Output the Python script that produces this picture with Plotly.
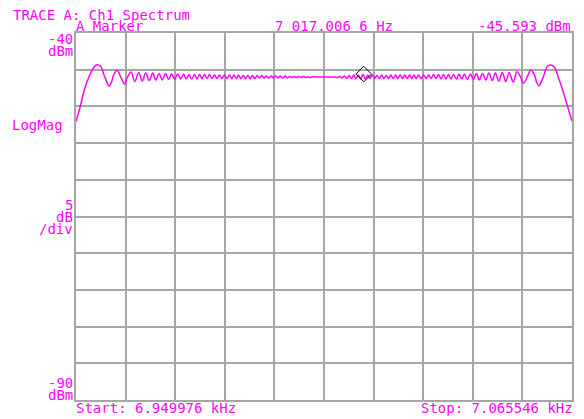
import plotly.graph_objects as go

# ---- data ----
start_hz = 6949.976
stop_hz = 7065.546
ref_top_dbm = -40
ref_bottom_dbm = -90
db_per_div = 5

freq_left_hz = [
    6949.98, 6951.07, 6951.83, 6952.60, 6953.39, 6954.15, 6954.78, 6955.71, 6956.47, 6957.24,
    6957.63, 6958.17, 6958.79, 6959.56, 6960.35, 6961.28, 6961.88, 6962.81, 6963.67, 6964.60,
    6965.41, 6966.22, 6967.03, 6967.85, 6968.54, 6969.35, 6970.05, 6970.86, 6971.56, 6972.26,
    6972.95, 6973.65, 6974.34, 6975.04, 6975.62, 6976.32, 6976.90, 6977.59, 6978.17, 6978.75,
    6979.33, 6979.91, 6980.49, 6981.07, 6981.65, 6982.23, 6982.81, 6983.39, 6983.97, 6984.55,
    6985.14, 6985.72, 6986.30, 6986.76, 6987.34, 6987.80, 6988.38, 6988.96, 6989.43, 6990.01,
    6990.59, 6991.05, 6991.63, 6992.21, 6992.68, 6993.26, 6993.84, 6994.30, 6994.88, 6995.46,
    6995.93, 6996.51, 6997.09, 6997.55, 6998.13, 6998.71, 6999.18, 6999.76, 7000.34, 7000.80,
    7001.38, 7001.96, 7002.42, 7003.00, 7003.58, 7004.05, 7004.63,
]
level_left_dbm = [
    -52.03, -49.77, -47.94, -46.58, -45.45, -44.67, -44.32, -44.54, -45.68, -46.81,
    -47.26, -46.81, -45.68, -45.08, -45.90, -46.95, -46.13, -45.31, -46.61, -45.38,
    -46.54, -45.45, -46.47, -45.45, -46.40, -45.52, -46.40, -45.52, -46.34, -45.59,
    -46.34, -45.59, -46.27, -45.59, -46.27, -45.65, -46.27, -45.65, -46.27, -45.65,
    -46.20, -45.65, -46.20, -45.65, -46.20, -45.72, -46.20, -45.72, -46.20, -45.72,
    -46.20, -45.72, -46.20, -45.72, -46.20, -45.72, -46.20, -45.79, -46.20, -45.79,
    -46.20, -45.79, -46.20, -45.79, -46.13, -45.79, -46.13, -45.86, -46.13, -45.86,
    -46.13, -45.86, -46.13, -45.86, -46.13, -45.86, -46.13, -45.93, -46.06, -45.93,
    -46.06, -45.93, -46.06, -45.93, -46.06, -45.99, -46.06,
]

freq_center_hz = [7004.98, 7006.60, 7008.46, 7010.08]
level_center_dbm = [-45.99, -45.99, -45.99, -45.99]

freq_right_hz = [
    7010.89, 7011.47, 7011.94, 7012.52, 7013.10, 7013.56, 7014.14, 7014.72, 7015.18, 7015.76,
    7016.34, 7016.81, 7017.39, 7017.97, 7018.43, 7019.01, 7019.59, 7020.06, 7020.64, 7021.22,
    7021.68, 7022.26, 7022.84, 7023.31, 7023.89, 7024.47, 7024.93, 7025.51, 7026.09, 7026.56,
    7027.14, 7027.72, 7028.18, 7028.76, 7029.22, 7029.80, 7030.38, 7030.97, 7031.55, 7032.13,
    7032.71, 7033.29, 7033.87, 7034.45, 7035.03, 7035.61, 7036.19, 7036.77, 7037.35, 7037.93,
    7038.62, 7039.20, 7039.90, 7040.48, 7041.18, 7041.87, 7042.57, 7043.26, 7043.96, 7044.66,
    7045.47, 7046.17, 7046.98, 7047.67, 7048.49, 7049.30, 7050.11, 7050.92, 7051.85, 7052.71,
    7053.64, 7054.24, 7055.17, 7055.96, 7056.73, 7057.35, 7057.89, 7058.28, 7059.05, 7059.81,
    7060.74, 7061.60, 7062.30, 7063.06, 7063.85, 7064.62, 7065.54,
]
level_right_dbm = [
    -46.06, -45.93, -46.13, -45.86, -46.20, -45.79, -46.20, -45.72, -46.27, -45.72,
    -46.27, -45.62, -46.27, -45.72, -46.20, -45.72, -46.20, -45.79, -46.20, -45.72,
    -46.20, -45.79, -46.20, -45.72, -46.20, -45.72, -46.20, -45.72, -46.20, -45.72,
    -46.20, -45.72, -46.20, -45.72, -46.20, -45.72, -46.20, -45.72, -46.20, -45.72,
    -46.20, -45.65, -46.20, -45.65, -46.27, -45.65, -46.27, -45.65, -46.27, -45.65,
    -46.27, -45.59, -46.27, -45.59, -46.34, -45.59, -46.34, -45.52, -46.40, -45.52,
    -46.40, -45.45, -46.47, -45.45, -46.54, -45.38, -46.61, -45.38, -46.68, -45.27,
    -46.10, -46.85, -45.90, -45.04, -45.62, -46.78, -47.22, -46.80, -45.68, -44.54,
    -44.36, -44.77, -45.95, -47.22, -48.68, -50.22, -51.99,
]

marker_freq_hz = 7017.0066
marker_level_dbm = -45.593

title_text = "TRACE A: Ch1 Spectrum"
marker_label = "A Marker"
marker_freq_text = "7 017.006 6 Hz"
marker_level_text = "-45.593 dBm"
start_text = "Start: 6.949976 kHz"
stop_text = "Stop: 7.065546 kHz"

# ---- styling ----
MAG = "#ff00ff"
GRID = "#a6a6a6"
FONT = "DejaVu Sans Mono"

freq_hz = freq_left_hz + freq_center_hz + freq_right_hz
level_dbm = level_left_dbm + level_center_dbm + level_right_dbm

fig = go.Figure()
fig.add_trace(go.Scatter(
    x=freq_hz, y=level_dbm, mode="lines",
    line=dict(color=MAG, width=1.5, shape="spline", smoothing=1.0),
    hoverinfo="skip", showlegend=False,
))
fig.add_trace(go.Scatter(
    x=[marker_freq_hz], y=[marker_level_dbm], mode="markers",
    marker=dict(symbol="diamond-open", size=12, color="black", line=dict(width=1, color="black")),
    hoverinfo="skip", showlegend=False,
))

span = stop_hz - start_hz
xgrid = [start_hz + i * span / 10 for i in range(11)]

# the page body has an 8px margin, so the figure is drawn 8px right/down
fig.update_layout(
    width=576, height=411,
    margin=dict(l=68, r=10, t=25, b=19),
    paper_bgcolor="white", plot_bgcolor="white",
    font=dict(family=FONT, size=14, color=MAG),
    xaxis=dict(range=[start_hz, stop_hz], tickvals=xgrid, showticklabels=False,
               showgrid=True, gridcolor=GRID, gridwidth=2, zeroline=False,
               showline=True, mirror=True, linecolor=GRID, linewidth=2, ticks=""),
    yaxis=dict(range=[ref_bottom_dbm, ref_top_dbm], dtick=db_per_div, tick0=ref_bottom_dbm,
               showticklabels=False, showgrid=True, gridcolor=GRID, gridwidth=2, zeroline=False,
               showline=True, mirror=True, linecolor=GRID, linewidth=2, ticks=""),
)

W = 498.0
H = 367.0


def px(xp):
    return (xp - 76) / W


def py(yp):
    return (400 - yp) / H


def ann(text, xp, yp, anchor):
    fig.add_annotation(text=text, x=px(xp), y=py(yp), xref="paper", yref="paper",
                       xanchor=anchor, yanchor="middle", showarrow=False,
                       borderpad=0, borderwidth=0,
                       font=dict(family=FONT, size=14, color=MAG))


ann(title_text, 13, 14.5, "left")
ann(marker_label, 76, 26, "left")
ann(marker_freq_text, 276, 26, "left")
ann(marker_level_text, 573, 26, "right")
ann("-40", 73, 38.5, "right")
ann("dBm", 73, 51, "right")
ann("LogMag", 12, 125, "left")
ann("5", 73, 205, "right")
ann("dB", 73, 217.5, "right")
ann("/div", 73, 229, "right")
ann("-90", 73, 383, "right")
ann("dBm", 73, 394.5, "right")
ann(start_text, 76, 408, "left")
ann(stop_text, 575, 408, "right")

fig.write_html("out.html")
